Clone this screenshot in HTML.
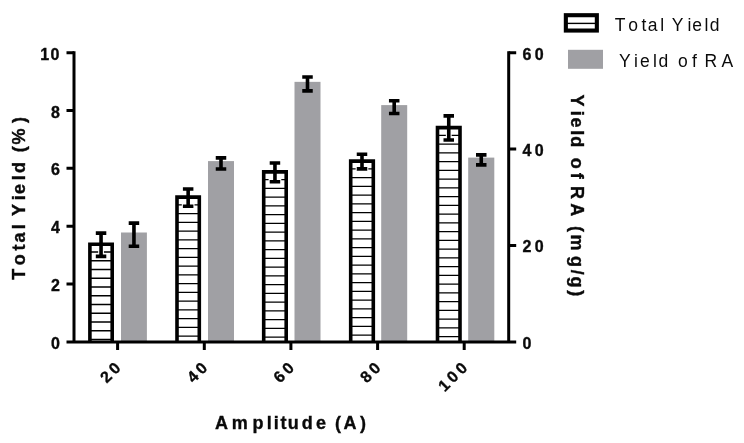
<!DOCTYPE html>
<html><head><meta charset="utf-8"><title>Chart</title>
<style>
html,body{margin:0;padding:0;background:#fff;}
body{width:744px;height:443px;overflow:hidden;}
svg{display:block;}
text{font-family:"Liberation Sans",Arial,sans-serif;fill:#0a0a0a;}
.b{font-weight:bold;stroke:#0a0a0a;stroke-width:0.35px;}
</style></head><body>
<svg width="744" height="443" viewBox="0 0 744 443">
<rect width="744" height="443" fill="#fff"/>

<rect x="121.0" y="232.5" width="25.90" height="109.40" fill="#a0a0a4"/>
<rect x="208.0" y="161.1" width="26.00" height="180.80" fill="#a0a0a4"/>
<rect x="294.5" y="81.85" width="26.00" height="260.05" fill="#a0a0a4"/>
<rect x="381.2" y="105.1" width="26.00" height="236.80" fill="#a0a0a4"/>
<rect x="468.2" y="157.6" width="26.10" height="184.30" fill="#a0a0a4"/>
<rect x="88.1" y="242.4" width="25.90" height="99.50" fill="#fff"/>
<path d="M90.1,252.00H112.0M90.1,260.75H112.0M90.1,269.50H112.0M90.1,278.25H112.0M90.1,287.00H112.0M90.1,295.75H112.0M90.1,304.50H112.0M90.1,313.25H112.0M90.1,322.00H112.0M90.1,330.75H112.0M90.1,339.50H112.0" stroke="#000" stroke-width="1.3" fill="none"/>
<path d="M98.15,242.40h5.80V253.50H107.40V259.30H94.70V253.50H98.15z" fill="#fff"/>
<path d="M89.90,341.9V244.20H112.20V341.9" fill="none" stroke="#000" stroke-width="3.6"/>
<path d="M95.80,231.30h10.50v3.60h-3.45v19.70h3.45v3.60h-10.50v-3.60h3.45v-19.70h-3.45z" fill="#000"/>
<rect x="175.2" y="195.3" width="25.90" height="146.60" fill="#fff"/>
<path d="M177.2,204.90H199.1M177.2,213.65H199.1M177.2,222.40H199.1M177.2,231.15H199.1M177.2,239.90H199.1M177.2,248.65H199.1M177.2,257.40H199.1M177.2,266.15H199.1M177.2,274.90H199.1M177.2,283.65H199.1M177.2,292.40H199.1M177.2,301.15H199.1M177.2,309.90H199.1M177.2,318.65H199.1M177.2,327.40H199.1M177.2,336.15H199.1" stroke="#000" stroke-width="1.3" fill="none"/>
<path d="M185.25,195.30h5.80V203.30H194.50V209.10H181.80V203.30H185.25z" fill="#fff"/>
<path d="M177.00,341.9V197.10H199.30V341.9" fill="none" stroke="#000" stroke-width="3.6"/>
<path d="M182.90,187.20h10.50v3.60h-3.45v13.60h3.45v3.60h-10.50v-3.60h3.45v-13.60h-3.45z" fill="#000"/>
<rect x="261.9" y="170.1" width="26.10" height="171.80" fill="#fff"/>
<path d="M263.9,179.70H286.0M263.9,188.45H286.0M263.9,197.20H286.0M263.9,205.95H286.0M263.9,214.70H286.0M263.9,223.45H286.0M263.9,232.20H286.0M263.9,240.95H286.0M263.9,249.70H286.0M263.9,258.45H286.0M263.9,267.20H286.0M263.9,275.95H286.0M263.9,284.70H286.0M263.9,293.45H286.0M263.9,302.20H286.0M263.9,310.95H286.0M263.9,319.70H286.0M263.9,328.45H286.0M263.9,337.20H286.0" stroke="#000" stroke-width="1.3" fill="none"/>
<path d="M272.05,170.10h5.80V178.80H281.30V184.60H268.60V178.80H272.05z" fill="#fff"/>
<path d="M263.70,341.9V171.90H286.20V341.9" fill="none" stroke="#000" stroke-width="3.6"/>
<path d="M269.70,161.20h10.50v3.60h-3.45v15.10h3.45v3.60h-10.50v-3.60h3.45v-15.10h-3.45z" fill="#000"/>
<rect x="348.9" y="159.3" width="26.20" height="182.60" fill="#fff"/>
<path d="M350.9,168.90H373.1M350.9,177.65H373.1M350.9,186.40H373.1M350.9,195.15H373.1M350.9,203.90H373.1M350.9,212.65H373.1M350.9,221.40H373.1M350.9,230.15H373.1M350.9,238.90H373.1M350.9,247.65H373.1M350.9,256.40H373.1M350.9,265.15H373.1M350.9,273.90H373.1M350.9,282.65H373.1M350.9,291.40H373.1M350.9,300.15H373.1M350.9,308.90H373.1M350.9,317.65H373.1M350.9,326.40H373.1M350.9,335.15H373.1" stroke="#000" stroke-width="1.3" fill="none"/>
<path d="M359.10,159.30h5.80V166.00H368.35V171.80H355.65V166.00H359.10z" fill="#fff"/>
<path d="M350.70,341.9V161.10H373.30V341.9" fill="none" stroke="#000" stroke-width="3.6"/>
<path d="M356.75,152.40h10.50v3.60h-3.45v11.10h3.45v3.60h-10.50v-3.60h3.45v-11.10h-3.45z" fill="#000"/>
<rect x="435.7" y="125.8" width="26.10" height="216.10" fill="#fff"/>
<path d="M437.7,135.40H459.8M437.7,144.15H459.8M437.7,152.90H459.8M437.7,161.65H459.8M437.7,170.40H459.8M437.7,179.15H459.8M437.7,187.90H459.8M437.7,196.65H459.8M437.7,205.40H459.8M437.7,214.15H459.8M437.7,222.90H459.8M437.7,231.65H459.8M437.7,240.40H459.8M437.7,249.15H459.8M437.7,257.90H459.8M437.7,266.65H459.8M437.7,275.40H459.8M437.7,284.15H459.8M437.7,292.90H459.8M437.7,301.65H459.8M437.7,310.40H459.8M437.7,319.15H459.8M437.7,327.90H459.8M437.7,336.65H459.8" stroke="#000" stroke-width="1.3" fill="none"/>
<path d="M445.85,125.80h5.80V137.10H455.10V142.90H442.40V137.10H445.85z" fill="#fff"/>
<path d="M437.50,341.9V127.60H460.00V341.9" fill="none" stroke="#000" stroke-width="3.6"/>
<path d="M443.50,114.10h10.50v3.60h-3.45v20.50h3.45v3.60h-10.50v-3.60h3.45v-20.50h-3.45z" fill="#000"/>
<path d="M128.70,221.30h10.50v3.60h-3.45v19.50h3.45v3.60h-10.50v-3.60h3.45v-19.50h-3.45z" fill="#000"/>
<path d="M215.75,156.10h10.50v3.60h-3.45v7.50h3.45v3.60h-10.50v-3.60h3.45v-7.50h-3.45z" fill="#000"/>
<path d="M302.25,75.20h10.50v3.60h-3.45v10.30h3.45v3.60h-10.50v-3.60h3.45v-10.30h-3.45z" fill="#000"/>
<path d="M388.95,99.00h10.50v3.60h-3.45v9.10h3.45v3.60h-10.50v-3.60h3.45v-9.10h-3.45z" fill="#000"/>
<path d="M476.00,153.10h10.50v3.60h-3.45v6.40h3.45v3.60h-10.50v-3.60h3.45v-6.40h-3.45z" fill="#000"/>
<path d="M74,51.25V341.9M508.7,51.25V341.9M66.5,341.9H516.2" stroke="#000" stroke-width="3" fill="none"/>
<path d="M66.5,284.05H74M66.5,226.20H74M66.5,168.35H74M66.5,110.50H74M66.5,52.65H74M508.7,245.48H516.2M508.7,149.07H516.2M508.7,52.65H516.2M117.6,341.9V350.1M204.29999999999998,341.9V350.1M290.90000000000003,341.9V350.1M377.6,341.9V350.1M464.20000000000005,341.9V350.1" stroke="#000" stroke-width="3" fill="none"/>
<text class="b" x="59.9" y="348.90" font-size="16" text-anchor="end">0</text>
<text class="b" x="59.9" y="291.05" font-size="16" text-anchor="end">2</text>
<text class="b" x="59.9" y="233.20" font-size="16" text-anchor="end">4</text>
<text class="b" x="59.9" y="175.35" font-size="16" text-anchor="end">6</text>
<text class="b" x="59.9" y="117.50" font-size="16" text-anchor="end">8</text>
<text class="b" x="60.6" y="59.65" font-size="16" text-anchor="end" dx="-1.3 1.3">10</text>
<text class="b" x="522.4" y="348.90" font-size="16">0</text>
<text class="b" x="522.4" y="252.48" font-size="16" dx="0 3.5">20</text>
<text class="b" x="522.4" y="156.07" font-size="16" dx="0 3.5">40</text>
<text class="b" x="522.4" y="59.65" font-size="16" dx="0 3.5">60</text>
<text class="b" transform="translate(124.0,366.5) rotate(-45)" font-size="16" text-anchor="end" letter-spacing="3.3">20</text>
<text class="b" transform="translate(210.7,366.5) rotate(-45)" font-size="16" text-anchor="end" letter-spacing="3.3">40</text>
<text class="b" transform="translate(297.3,366.5) rotate(-45)" font-size="16" text-anchor="end" letter-spacing="3.3">60</text>
<text class="b" transform="translate(384.0,366.5) rotate(-45)" font-size="16" text-anchor="end" letter-spacing="3.3">80</text>
<text class="b" transform="translate(470.6,366.5) rotate(-45)" font-size="16" text-anchor="end" letter-spacing="3.3">100</text>
<text class="b" transform="translate(25.3,279.6) rotate(-90)" font-size="18" letter-spacing="3.45" word-spacing="-4" dx="-0.1 1.45 0.25 -1.5 -0.2 0 0.65 1.0 -2.35 0.4 -1.3 0 1.95 -1.75 1.95">Total Yield (%)</text>
<text class="b" transform="translate(570.9,94.6) rotate(90)" font-size="18" letter-spacing="3.45" word-spacing="-4" dx="0 1.4 -1.65 -0.75 -2.5 0 2.7 0.3 0 -0.5 0.75 0 2.6 -0.95 2.05 -0.85 -1.7 -0.55">Yield of RA (mg/g)</text>
<text class="b" x="214.8" y="428.8" font-size="18" letter-spacing="3.3" word-spacing="-4" dx="0.15 0.5 1.35 0 -1.3 -1.55 -1.95 -0.5 0.15 0 1.3 -0.9 0.35">Amplitude (A)</text>
<rect x="565.85" y="15.2" width="31" height="15.35" fill="#fff" stroke="#000" stroke-width="4.1"/>
<path d="M567,23.4H596" stroke="#000" stroke-width="1.4"/>
<rect x="568" y="49.8" width="35" height="19" fill="#a0a0a4"/>
<text x="614.6" y="30.7" font-size="17.5" letter-spacing="2.6" dx="0.2 2.2 0.9 -1.2 0.15 0 -2.25 2.05 -1.8 0.05 -1.25">Total Yield</text>
<text x="618.6" y="67.3" font-size="17.5" letter-spacing="2.8" dx="0.45 1.2 -0.75 0.45 -1.15 0 -0.75 1.3 0 -2.8 1.65">Yield of RA</text>
</svg></body></html>
